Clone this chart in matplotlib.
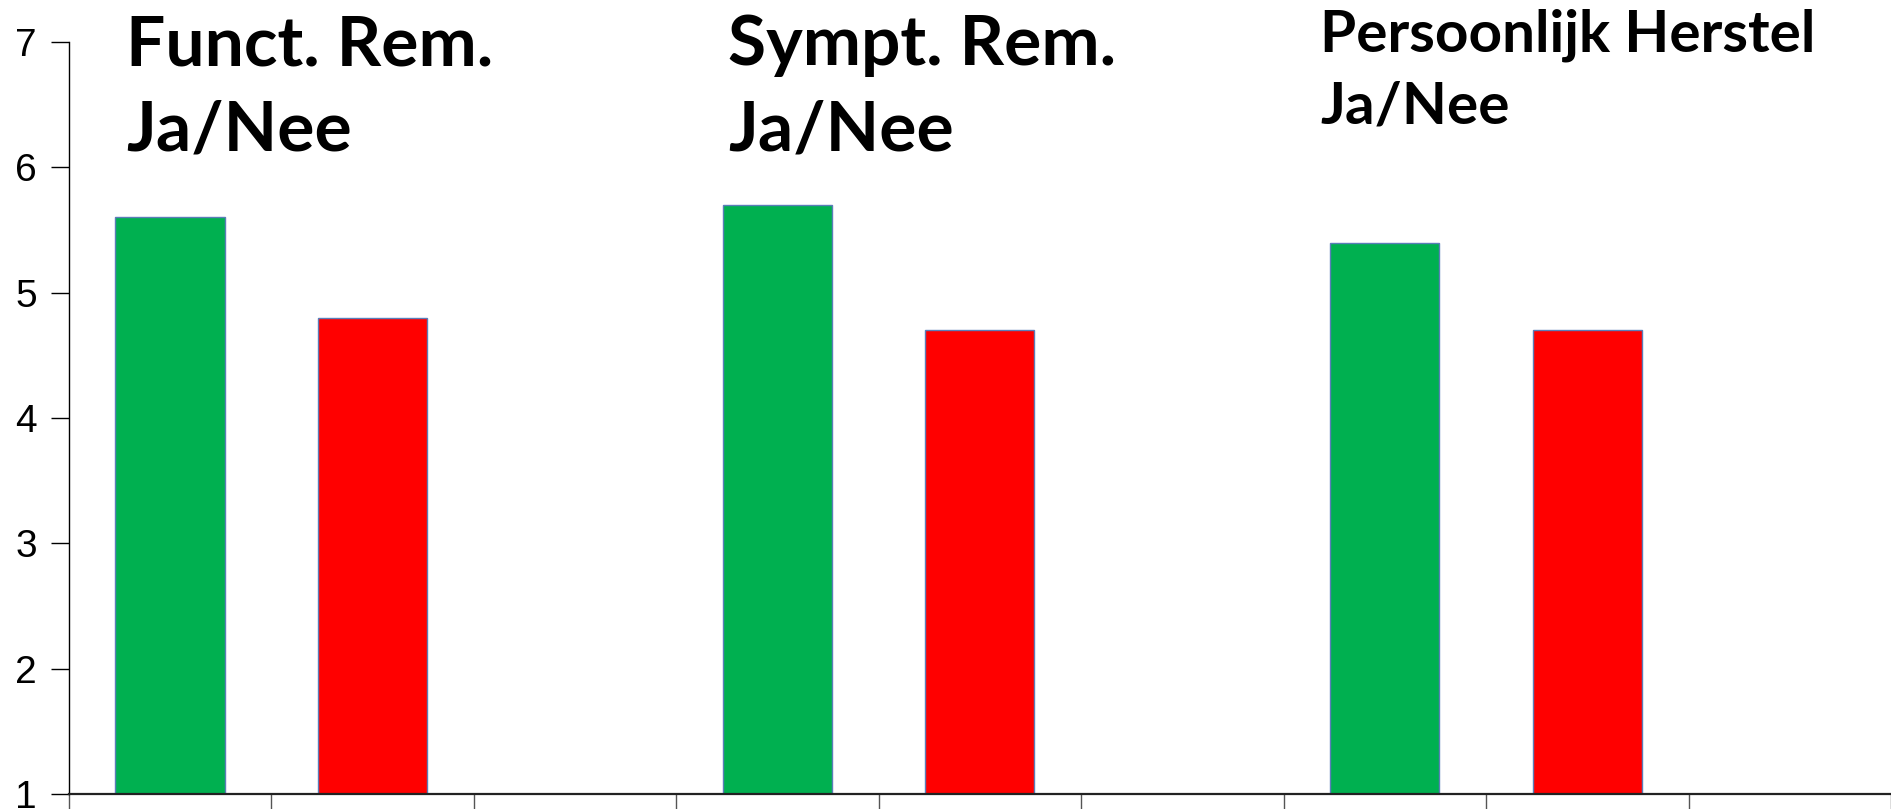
import matplotlib
matplotlib.use("Agg")
import matplotlib.pyplot as plt

categories = ["Funct. Ja", "Funct. Nee", "", "Sympt. Ja", "Sympt. Nee", "", "Pers. Ja", "Pers. Nee", ""]
values = [5.6, 4.8, None, 5.7, 4.7, None, 5.4, 4.7, None]
colors = ["#00B050", "#FF0000", None, "#00B050", "#FF0000", None, "#00B050", "#FF0000", None]
yticks = [1, 2, 3, 4, 5, 6, 7]
group_titles = [("Funct. Rem.", "Ja/Nee"), ("Sympt. Rem.", "Ja/Nee"), ("Persoonlijk Herstel", "Ja/Nee")]

W, H = 1891, 809
fig = plt.figure(figsize=(W / 100, H / 100), dpi=100)
ax = fig.add_axes([0.0363, 0.0185, 0.9637, 0.9296])

xs = [i for i, v in enumerate(values) if v is not None]
vs = [values[i] for i in xs]
cs = [colors[i] for i in xs]
ax.bar(xs, [v - 1 for v in vs], bottom=1, width=0.54, color=cs,
       edgecolor="#5B7DB8", linewidth=1.0, zorder=2)

ax.set_ylim(1, 7)
ax.set_xlim(-0.5, 8.45)
ax.set_yticks(yticks)
ax.set_yticklabels([str(t) for t in yticks], fontfamily="Liberation Sans", fontsize=28)
ax.set_xticks([i - 0.5 for i in range(len(categories) + 1)])
ax.set_xticklabels([])
ax.tick_params(axis="y", direction="out", length=13, width=1.0, pad=10, colors="black")
ax.tick_params(axis="x", direction="out", length=11, width=1.0, color="#555555")

for s in ["top", "right"]:
    ax.spines[s].set_visible(False)
ax.spines["left"].set_linewidth(1.0)
ax.spines["bottom"].set_linewidth(1.6)
ax.spines["bottom"].set_color("#222222")

title_font = "Lato"
# (left px, line1 baseline px, line2 baseline px, fontsize)
title_layout = [(126, 65, 150, 50), (728, 65, 150, 50), (1320, 52, 124, 42)]
for (l1, l2), (lx, b1, b2, fs) in zip(group_titles, title_layout):
    fig.text(lx / W, 1 - b1 / H, l1, ha="left", va="baseline",
             fontfamily=title_font, fontweight="bold", fontsize=fs)
    fig.text(lx / W, 1 - b2 / H, l2, ha="left", va="baseline",
             fontfamily=title_font, fontweight="bold", fontsize=fs)

fig.savefig("out.png", dpi=100)
